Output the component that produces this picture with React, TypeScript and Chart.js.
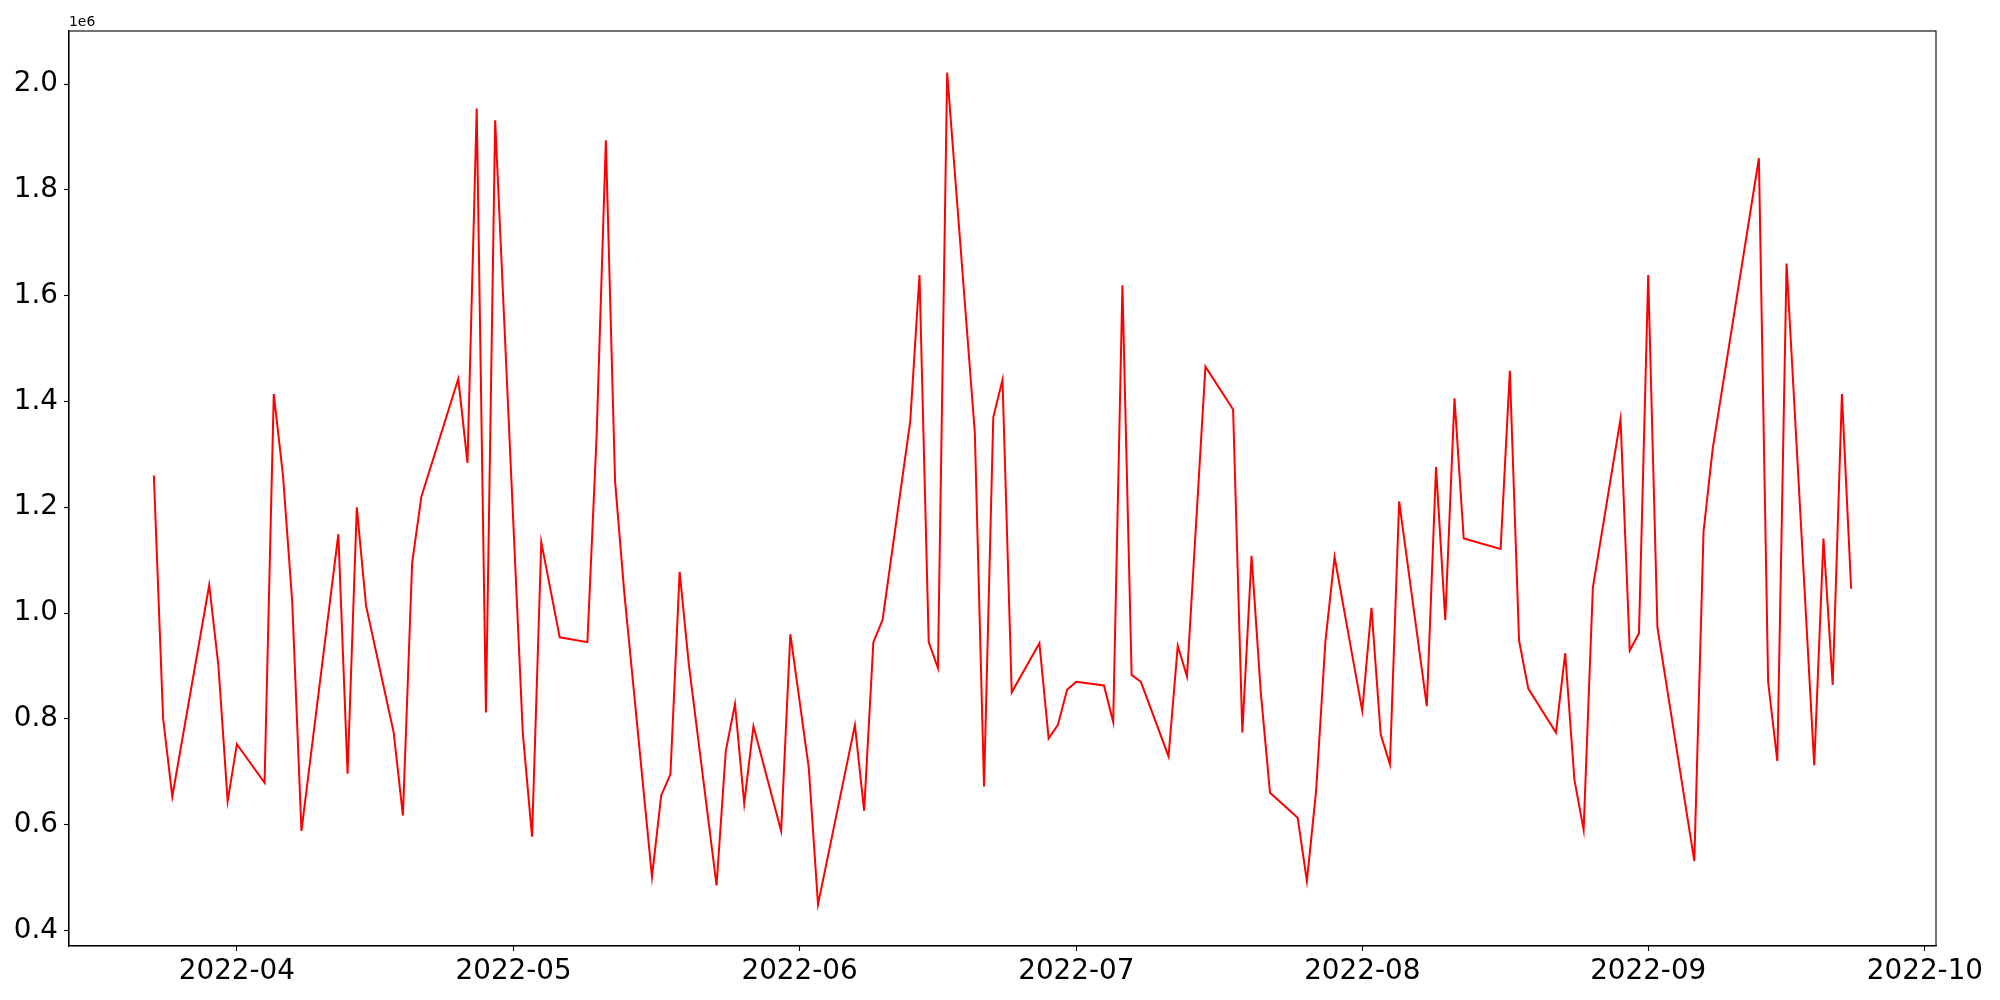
import React, { useEffect, useRef } from 'react';
import { Chart, registerables } from 'chart.js';

Chart.register(...registerables);

const dates: string[] = [
  '2022-03-23', '2022-03-24', '2022-03-25', '2022-03-29', '2022-03-30', '2022-03-31',
  '2022-04-01', '2022-04-04', '2022-04-05', '2022-04-06', '2022-04-07', '2022-04-08', '2022-04-12',
  '2022-04-13', '2022-04-14', '2022-04-15', '2022-04-18', '2022-04-19', '2022-04-20', '2022-04-21',
  '2022-04-25', '2022-04-26', '2022-04-27', '2022-04-28', '2022-04-29',
  '2022-05-02', '2022-05-03', '2022-05-04', '2022-05-06', '2022-05-09', '2022-05-10', '2022-05-11',
  '2022-05-12', '2022-05-13', '2022-05-16', '2022-05-17', '2022-05-18', '2022-05-19', '2022-05-20',
  '2022-05-23', '2022-05-24', '2022-05-25', '2022-05-26', '2022-05-27', '2022-05-30', '2022-05-31',
  '2022-06-02', '2022-06-03', '2022-06-07', '2022-06-08', '2022-06-09', '2022-06-10', '2022-06-13',
  '2022-06-14', '2022-06-15', '2022-06-16', '2022-06-17', '2022-06-20', '2022-06-21', '2022-06-22',
  '2022-06-23', '2022-06-24', '2022-06-27', '2022-06-28', '2022-06-29', '2022-06-30',
  '2022-07-01', '2022-07-04', '2022-07-05', '2022-07-06', '2022-07-07', '2022-07-08', '2022-07-11',
  '2022-07-12', '2022-07-13', '2022-07-15', '2022-07-18', '2022-07-19', '2022-07-20', '2022-07-21',
  '2022-07-22', '2022-07-25', '2022-07-26', '2022-07-27', '2022-07-28', '2022-07-29',
  '2022-08-01', '2022-08-02', '2022-08-03', '2022-08-04', '2022-08-05', '2022-08-08', '2022-08-09',
  '2022-08-10', '2022-08-11', '2022-08-12', '2022-08-16', '2022-08-17', '2022-08-18', '2022-08-19',
  '2022-08-22', '2022-08-23', '2022-08-24', '2022-08-25', '2022-08-26', '2022-08-29', '2022-08-30',
  '2022-08-31',
  '2022-09-01', '2022-09-02', '2022-09-06', '2022-09-07', '2022-09-08', '2022-09-13', '2022-09-14',
  '2022-09-15', '2022-09-16', '2022-09-19', '2022-09-20', '2022-09-21', '2022-09-22', '2022-09-23',
];

const values: number[] = [
  1260000, 801000, 653000, 1053000, 900000, 644000,
  752000, 679000, 1414000, 1260000, 1021000, 588000, 1149000,
  696000, 1200000, 1014000, 774000, 617000, 1095000, 1220000,
  1443000, 1284000, 1954000, 812000, 1932000,
  772000, 577000, 1134000, 954000, 945000, 1336000, 1894000,
  1249000, 1038000, 501000, 655000, 695000, 1078000, 902000,
  485000, 739000, 828000, 640000, 786000, 588000, 960000,
  707000, 449000, 788000, 626000, 945000, 987000, 1363000,
  1639000, 945000, 896000, 2022000, 1341000, 672000, 1370000,
  1441000, 850000, 943000, 763000, 788000, 855000,
  870000, 863000, 794000, 1620000, 883000, 870000, 729000,
  938000, 880000, 1466000, 1385000, 774000, 1108000, 850000,
  660000, 613000, 493000, 664000, 945000, 1106000,
  815000, 1010000, 770000, 714000, 1211000, 824000, 1276000,
  987000, 1406000, 1141000, 1121000, 1458000, 948000, 857000,
  774000, 924000, 685000, 590000, 1048000, 1367000, 929000,
  962000,
  1639000, 973000, 531000, 1154000, 1312000, 1860000, 870000,
  720000, 1661000, 712000, 1141000, 864000, 1414000, 1046000,
];

const yTickValues: number[] = [400000, 600000, 800000, 1000000, 1200000, 1400000, 1600000, 1800000, 2000000];
const yTickLabels: string[] = ['0.4', '0.6', '0.8', '1.0', '1.2', '1.4', '1.6', '1.8', '2.0'];
const xTickDates: string[] = ['2022-04-01', '2022-05-01', '2022-06-01', '2022-07-01', '2022-08-01', '2022-09-01', '2022-10-01'];
const xTickLabels: string[] = ['2022-04', '2022-05', '2022-06', '2022-07', '2022-08', '2022-09', '2022-10'];
const offsetLabel = '1e6';

const DAY_MS = 86400000;
const toDay = (s: string) => Date.parse(s + 'T00:00:00Z') / DAY_MS;

export default function App() {
  const ref = useRef<HTMLCanvasElement>(null);

  useEffect(() => {
    if (!ref.current) return;
    const xs = dates.map(toDay);
    const xMinD = Math.min(...xs);
    const xMaxD = Math.max(...xs);
    const xPad = (xMaxD - xMinD) * 0.05;
    const yMinD = Math.min(...values);
    const yMaxD = Math.max(...values);
    const yPad = (yMaxD - yMinD) * 0.05;
    const xTickDays = xTickDates.map(toDay);
    const font = { family: "'DejaVu Sans', sans-serif", size: 27.8 };

    const framePlugin = {
      id: 'frame',
      afterDraw(chart: any) {
        const { ctx, chartArea: a } = chart;
        ctx.save();
        ctx.strokeStyle = '#000';
        ctx.lineWidth = 1.1;
        ctx.strokeRect(a.left, a.top, a.right - a.left, a.bottom - a.top);
        ctx.fillStyle = '#000';
        ctx.font = "13.9px 'DejaVu Sans', sans-serif";
        ctx.textAlign = 'left';
        ctx.textBaseline = 'alphabetic';
        ctx.fillText(offsetLabel, a.left, a.top - 5);
        ctx.restore();
      },
    };

    const chart = new Chart(ref.current, {
      type: 'line',
      data: {
        datasets: [
          {
            data: dates.map((d, i) => ({ x: toDay(d), y: values[i] })),
            borderColor: '#ff0000',
            borderWidth: 2,
            pointRadius: 0,
            fill: false,
            tension: 0,
          },
        ],
      },
      options: {
        animation: false,
        responsive: false,
        maintainAspectRatio: false,
        layout: { padding: { left: 0, top: 31, right: 64, bottom: 0 } },
        plugins: { legend: { display: false }, tooltip: { enabled: false } },
        scales: {
          x: {
            type: 'linear',
            min: xMinD - xPad,
            max: xMaxD + xPad,
            afterBuildTicks: (s: any) => {
              s.ticks = xTickDays.map((v) => ({ value: v }));
            },
            afterFit: (s: any) => {
              s.height = 54;
            },
            ticks: {
              autoSkip: false,
              maxRotation: 0,
              minRotation: 0,
              color: '#000',
              font,
              padding: 4,
              callback: (v: any) => {
                const i = xTickDays.indexOf(Number(v));
                return i >= 0 ? xTickLabels[i] : '';
              },
            },
            grid: { drawOnChartArea: false, drawTicks: true, tickLength: 5, tickColor: '#000', tickWidth: 1.1 },
            border: { display: true, color: '#000', width: 1.1 },
          },
          y: {
            type: 'linear',
            min: yMinD - yPad,
            max: yMaxD + yPad,
            afterBuildTicks: (s: any) => {
              s.ticks = yTickValues.map((v) => ({ value: v }));
            },
            afterFit: (s: any) => {
              s.width = 69;
            },
            ticks: {
              autoSkip: false,
              color: '#000',
              font,
              padding: 6,
              callback: (v: any) => {
                const i = yTickValues.indexOf(Number(v));
                return i >= 0 ? yTickLabels[i] : '';
              },
            },
            grid: { drawOnChartArea: false, drawTicks: true, tickLength: 5, tickColor: '#000', tickWidth: 1.1 },
            border: { display: true, color: '#000', width: 1.1 },
          },
        },
      },
      plugins: [framePlugin],
    });

    return () => chart.destroy();
  }, []);

  return (
    <div style={{ position: 'absolute', left: 0, top: 0, width: 2000, height: 1000, background: '#fff' }}>
      <canvas ref={ref} width={2000} height={1000} style={{ display: 'block', width: 2000, height: 1000 }} />
    </div>
  );
}
